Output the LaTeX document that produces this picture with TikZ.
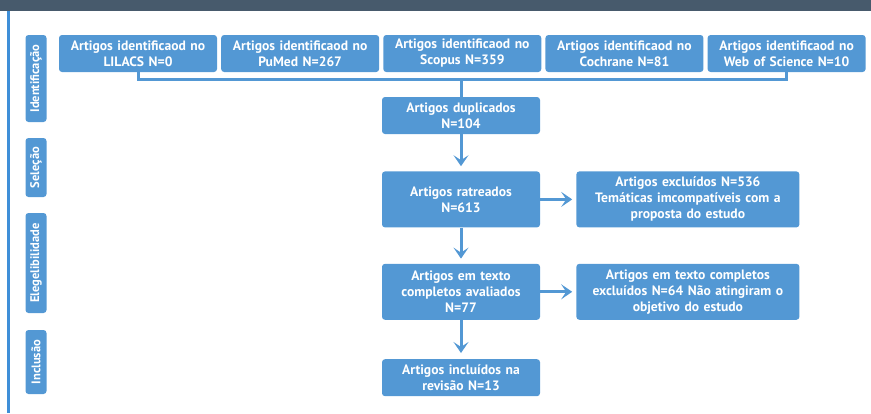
\documentclass[tikz,border=0pt]{standalone}
\usepackage{fontspec}
\setmainfont{PT Sans}
\usetikzlibrary{arrows.meta, positioning, calc}

\definecolor{boxblue}{HTML}{5398D4}
\definecolor{sideblue}{HTML}{3F8FD8}
\definecolor{headgray}{HTML}{475A6C}

\begin{document}
\begin{tikzpicture}[x=1pt, y=-1pt, >={Stealth[length=11pt, width=15pt, inset=5pt]}, node distance=36pt and 36pt]
    \tikzstyle{box} = [rectangle, rounded corners=3pt, fill=boxblue, text=white, font=\bfseries\fontsize{13.6}{16}\selectfont, align=center, inner sep=0pt, minimum width=158pt, minimum height=37pt, text width=156pt]
    \tikzstyle{tall} = [minimum height=56pt]
    \tikzstyle{wide} = [minimum width=223pt, text width=221pt]
    \tikzstyle{stage} = [rectangle, rounded corners=3pt, fill=boxblue, text=white, font=\bfseries\fontsize{12.5}{14}\selectfont, rotate=90, inner sep=0pt, minimum height=21pt]
    \tikzstyle{link} = [draw=boxblue, line width=3pt]

    \useasboundingbox (0,0) rectangle (871,413);

    % Header and side rule
    \fill[headgray] (0,0) rectangle (871,11);
    \draw[sideblue, line width=3pt] (8.5,11) -- (8.5,413);

    % Stage labels
    \node[stage, minimum width=87pt] (ident) at (36,78.5) {Identificação};
    \node[stage, minimum width=59pt] (selec) at (36,167.5) {Seleção};
    \node[stage, minimum width=100pt] (eleg) at (36,263) {Elegelibilidade};
    \node[stage, minimum width=64pt] (incl) at (36,362) {Inclusão};

    % Define nodes
    \node[box] (lilacs) at (138,53.5) {Artigos identificaod no\\LILACS N=0};
    \node[box] (pubmed) [right=3.75pt of lilacs] {Artigos identificaod no\\PuMed N=267};
    \node[box] (scopus) [right=3.75pt of pubmed] {Artigos identificaod no\\Scopus N=359};
    \node[box] (cochrane) [right=3.75pt of scopus] {Artigos identificaod no\\Cochrane N=81};
    \node[box] (wos) [right=3.75pt of cochrane] {Artigos identificaod no\\Web of Science N=10};
    \node[box] (dup) at (461,115.5) {Artigos duplicados\\N=104};
    \node[box, tall] (rat) [below=37pt of dup] {Artigos ratreados\\N=613};
    \node[box, tall] (aval) [below=36pt of rat] {Artigos em texto\\completos avaliados\\N=77};
    \node[box] (final) [below=39pt of aval] {Artigos incluídos na\\revisão N=13};
    \node[box, tall, wide] (exc1) [right=of rat] {Artigos excluídos N=536\\Temáticas imcompatíveis com a\\proposta do estudo};
    \node[box, tall, wide] (exc2) [right=of aval] {Artigos em texto completos\\excluídos N=64 Não atingiram o\\objetivo do estudo};

    % Draw edges
    \coordinate (join) at ($(dup.north)+(0,-17)$);
    \draw[link] (lilacs.south) |- (join) -| (wos.south);
    \draw[link] (join) -- (dup.north);
    \draw[link, ->, shorten >=5pt] (dup) -- (rat);
    \draw[link, ->, shorten >=5pt] (rat) -- (aval);
    \draw[link, ->, shorten >=6pt] (aval) -- (final);
    \draw[link, ->, shorten >=4pt] (rat) -- (exc1);
    \draw[link, ->, shorten >=4pt] (aval) -- (exc2);
\end{tikzpicture}
\end{document}
